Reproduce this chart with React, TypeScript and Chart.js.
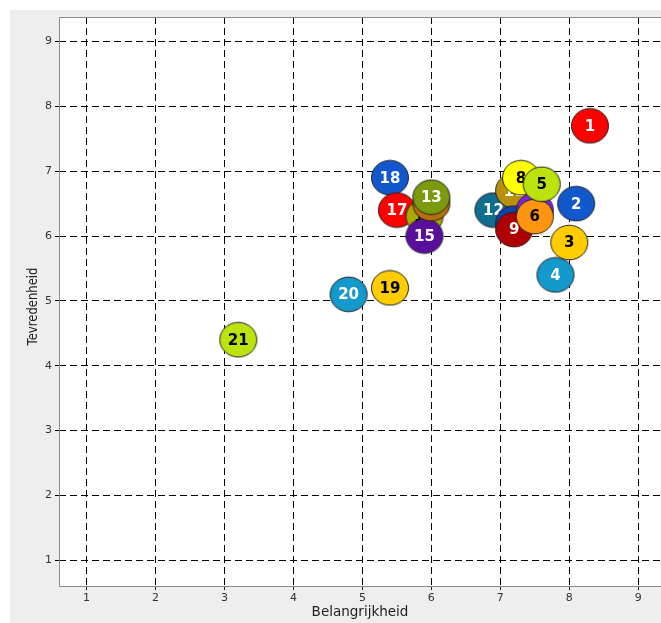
import React, { useEffect, useRef } from 'react';
import { Chart, registerables } from 'chart.js';

Chart.register(...registerables);

const LABELS = ['1', '2', '3', '4', '5', '6', '7', '8', '9', '10', '11', '12', '13', '14', '15', '16', '17', '18', '19', '20', '21'];
const BELANGRIJKHEID = [8.3, 8.1, 8.0, 7.8, 7.6, 7.5, 7.5, 7.3, 7.2, 7.2, 7.2, 6.9, 6.0, 6.0, 5.9, 5.9, 5.5, 5.4, 5.4, 4.8, 3.2];
const TEVREDENHEID = [7.7, 6.5, 5.9, 5.4, 6.8, 6.3, 6.4, 6.9, 6.1, 6.2, 6.7, 6.4, 6.6, 6.5, 6.0, 6.3, 6.4, 6.9, 5.2, 5.1, 4.4];
const COLORS = [
  '#ff0000', '#1158cc', '#ffcc00', '#1499cc', '#bde30e', '#ff9410', '#7f22d9', '#ffff00',
  '#ae0000', '#1144aa', '#b8900c', '#0f6e8f', '#7b9b0e', '#b86e08', '#5a0f9c', '#a8aa00',
  '#ff0000', '#1158cc', '#ffcc00', '#1499cc', '#bde30e',
];
const TEXT_COLORS = [
  '#fff', '#fff', '#000', '#fff', '#000', '#000', '#fff', '#000',
  '#fff', '#fff', '#fff', '#fff', '#fff', '#fff', '#fff', '#000',
  '#fff', '#fff', '#000', '#fff', '#000',
];
const X_TICKS = [1, 2, 3, 4, 5, 6, 7, 8, 9];
const Y_TICKS = [1, 2, 3, 4, 5, 6, 7, 8, 9];
const X_TITLE = 'Belangrijkheid';
const Y_TITLE = 'Tevredenheid';

function makeMarker(fill: string): HTMLCanvasElement {
  const c = document.createElement('canvas');
  c.width = 40;
  c.height = 37;
  const ctx = c.getContext('2d')!;
  ctx.beginPath();
  ctx.ellipse(20, 18.5, 18.5, 17.3, 0, 0, Math.PI * 2);
  ctx.fillStyle = fill;
  ctx.fill();
  ctx.lineWidth = 1;
  ctx.strokeStyle = '#222';
  ctx.stroke();
  return c;
}

const bgPlugin = {
  id: 'plotBg',
  beforeDraw(chart: any) {
    const { ctx, chartArea } = chart;
    ctx.save();
    ctx.fillStyle = '#ffffff';
    ctx.fillRect(chartArea.left, chartArea.top, chartArea.right - chartArea.left, chartArea.bottom - chartArea.top);
    ctx.restore();
  },
  beforeDatasetsDraw(chart: any) {
    const { ctx, chartArea } = chart;
    ctx.save();
    ctx.strokeStyle = '#8a8a8a';
    ctx.lineWidth = 1;
    ctx.beginPath();
    ctx.moveTo(chartArea.right + 2, chartArea.top + 0.5);
    ctx.lineTo(chartArea.left + 0.5, chartArea.top + 0.5);
    ctx.lineTo(chartArea.left + 0.5, chartArea.bottom + 0.5);
    ctx.lineTo(chartArea.right + 2, chartArea.bottom + 0.5);
    ctx.stroke();
    ctx.restore();
  },
  afterDraw(chart: any) {
    const { ctx, chartArea } = chart;
    ctx.save();
    ctx.font = '14px "DejaVu Sans"';
    const w = ctx.measureText(Y_TITLE).width;
    const cy = (chartArea.top + chartArea.bottom) / 2 + 5;
    ctx.translate(27, cy);
    ctx.rotate(-Math.PI / 2);
    ctx.scale(78 / w, 1);
    ctx.textAlign = 'center';
    ctx.textBaseline = 'alphabetic';
    ctx.fillStyle = '#222';
    ctx.fillText(Y_TITLE, 0, 0);
    ctx.restore();
  },
};

const labelPlugin = {
  id: 'pointLabels',
  afterDatasetDraw(chart: any, args: any) {
    const i = args.index;
    const el = args.meta.data[0];
    if (!el) return;
    const ctx = chart.ctx;
    ctx.save();
    ctx.font = 'bold 15px "DejaVu Sans"';
    ctx.textAlign = 'center';
    ctx.textBaseline = 'middle';
    ctx.fillStyle = TEXT_COLORS[i];
    ctx.fillText(LABELS[i], el.x, el.y + 1);
    ctx.restore();
  },
};

export default function App() {
  const ref = useRef<HTMLCanvasElement>(null);
  useEffect(() => {
    if (!ref.current) return;
    const datasets = LABELS.map((l, i) => ({
      label: l,
      data: [{ x: BELANGRIJKHEID[i], y: TEVREDENHEID[i] }],
      pointStyle: makeMarker(COLORS[i]) as any,
      pointRadius: 18,
      backgroundColor: COLORS[i],
      borderColor: '#222',
      borderWidth: 1,
    }));
    const tickFont = { family: '"DejaVu Sans"', size: 11 };
    const chart = new Chart(ref.current, {
      type: 'scatter',
      data: { datasets },
      plugins: [bgPlugin, labelPlugin],
      options: {
        responsive: false,
        animation: false,
        events: [],
        layout: { autoPadding: false, padding: { top: 7, left: 0, right: 0, bottom: 0 } },
        plugins: { legend: { display: false }, tooltip: { enabled: false } },
        scales: {
          x: {
            type: 'linear',
            min: 0.6,
            max: 9.33,
            afterBuildTicks: (s: any) => { s.ticks = X_TICKS.map((v) => ({ value: v })); },
            afterFit: (s: any) => { s.height = 37; s.paddingLeft = 0; s.paddingRight = 0; s.paddingTop = 0; s.paddingBottom = 0; },
            grid: { color: '#000', lineWidth: 1, tickLength: 4, tickColor: '#000', tickBorderDash: [7, 4] },
            border: { display: false, dash: [7, 4] },
            ticks: { font: tickFont, color: '#333', padding: 2, maxRotation: 0 },
            title: { display: true, text: X_TITLE, font: { family: '"DejaVu Sans"', size: 13.5 }, color: '#222', padding: { top: 0, bottom: 2 } },
          },
          y: {
            type: 'linear',
            min: 0.6,
            max: 9.38,
            afterBuildTicks: (s: any) => { s.ticks = Y_TICKS.map((v) => ({ value: v })); },
            afterFit: (s: any) => { s.width = 49; s.paddingLeft = 0; s.paddingRight = 0; s.paddingTop = 0; s.paddingBottom = 0; },
            grid: { color: '#000', lineWidth: 1, tickLength: 4, tickColor: '#000', tickBorderDash: [7, 4] },
            border: { display: false, dash: [7, 4] },
            ticks: { font: tickFont, color: '#333', padding: 3 },
            title: { display: false, text: Y_TITLE },
          },
        },
      },
    });
    return () => chart.destroy();
  }, []);
  return (
    <div style={{ position: 'absolute', left: 10, top: 10, width: 651, height: 613, background: '#eeeeee', overflow: 'hidden' }}>
      <canvas ref={ref} width={651} height={613} style={{ display: 'block' }} />
    </div>
  );
}
